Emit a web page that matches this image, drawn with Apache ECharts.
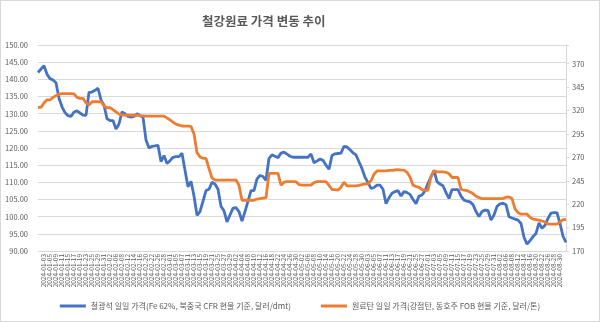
<!DOCTYPE html>
<html><head><meta charset="utf-8">
<script src="https://cdn.jsdelivr.net/npm/echarts@6/dist/echarts.min.js"></script>
<style>html,body{margin:0;padding:0;background:#fff}#c{width:598px;height:320px;border:1px solid #d9d9d9}</style>
</head><body><div id="c"></div>
<script>
const titleText = '철강원료 가격 변동 추이';
const seriesNames = ['철광석 일일 가격(Fe 62%, 북중국 CFR 현물 기준, 달러/dmt)', '원료탄 일일 가격(강점탄, 동호주 FOB 현물 기준, 달러/톤)'];
const startDate = '2024-01-01';
const endDate = '2024-09-03';
const leftTicks = {min: 90, max: 150, interval: 5};
const rightTicks = {min: 170, max: 390, interval: 25, lastLabel: 370};

const ironOre = [
142.0,143,144,141.5,140.2,139.8,139.0,134.5,132,130.3,
129.4,129.2,130.5,130.8,130.2,129.6,129.5,136.2,136.3,136.8,
137.4,134,132.5,128.5,128,128,125.5,127,130.5,130,
129.2,129,129.2,130,129.4,129,122.3,120,120.5,120.6,
120.8,116,117.8,115.5,116.3,117.3,117.5,117.5,118.5,113.5,
108.7,110.3,106,100.4,101.5,104.5,107.6,108,110,109.5,
108,103,101.7,98.5,100.5,102.5,102.6,101.5,98.7,101.5,
104.5,107.6,107.6,111,112,111.7,110.6,117,118,117.6,
117.2,118.5,118.8,118.2,117.6,117.3,117.3,117.3,117.3,117.3,
117.3,118.3,115.7,116.2,116.8,116.4,115,113.8,117.8,118.3,
118.4,118.5,120.5,120.3,119.5,118.6,118,116,114,111.5,
110,108.2,108.5,109.2,109.2,108,103.8,105.5,106.8,107.3,
107.6,106,107.3,107,106.5,105,103.8,106,106.3,107.5,
109.7,111.6,113.5,110.2,109.5,109,107,105.3,107.9,107.9,
107.9,106,104.8,104.5,104.3,103.5,101.5,100,101.5,101.9,
101.8,99,100.5,103,103.7,103.9,103.5,100,99.6,99.3,
99,98,94,92,93,94.2,95.1,98.2,96.6,97.5,
99.5,101,101.2,101.2,98,94.3,92.5
];
const cokingCoal = [
323.4,323.4,328,331.5,331.5,334,336,337.5,338,338,
338,338,337.8,334,333,333,328,326,329.4,329.4,
329.4,329.4,325,323,323,321,318.5,316.2,315.5,315.2,
315,315,315,315,314.5,314.3,314,314,314,314,
314,314,314,312,310,307.5,305.5,304.5,303.5,303.4,
303.4,303,295,275,270.5,269,269,258,248,245.6,
245.6,245.6,245.6,245.6,245.6,245.6,246,240,224.2,224.2,
224.2,224.2,224.2,225.5,226,226.5,227,252.8,252.8,252.8,
252.8,240.3,243.5,244,244,244,244,241,240.3,240.3,
240.3,240.3,243,244,244,244,244,240,235.7,235.5,
235,238,243.5,239.5,239.5,239.5,239.5,240,241,241.6,
241.6,245,252,255.6,255.6,255.6,255.6,256,256.2,256.5,
256.8,256.3,256.3,254,249,240.3,239,238,235.5,234.9,
234.9,250,255.5,254.6,254.6,254.6,254,252.5,248.5,248.5,
248.5,236,234.9,234.5,233,231.3,228.5,227,226,226,
226,226,226,226,226,226,227.5,227.8,226,215,
211,209.3,209.3,209.3,206,204,203.6,203,202,201,
198.6,198.6,198.6,198.6,201,203.6,203.6
];

// business-day categories between startDate and endDate
const dates = [];
(function(){
  let d = new Date(startDate + 'T00:00:00Z');
  const e = new Date(endDate + 'T00:00:00Z');
  while (d <= e) {
    const wd = d.getUTCDay();
    if (wd !== 0 && wd !== 6) dates.push(d.toISOString().slice(0,10));
    d = new Date(d.getTime() + 86400000);
  }
})();

const gray = '#595959';
const font = "'Noto Sans CJK KR', 'Noto Sans', sans-serif";
const chart = echarts.init(document.getElementById('c'));
chart.setOption({
  animation: false,
  textStyle: {fontFamily: font},
  title: {text: titleText, left: 196, top: 9,
    textStyle: {fontSize: 12.5, fontWeight: 'bold', color: gray, fontFamily: font}},
  legend: {bottom: 6, left: 'center', itemWidth: 26, itemHeight: 3, icon: 'rect', itemGap: 30,
    textStyle: {fontSize: 8, color: gray, fontFamily: font}},
  grid: {left: 37, right: 33, top: 44, bottom: 70},
  xAxis: {type: 'category', data: dates, boundaryGap: false,
    axisLine: {show: false}, axisTick: {show: false},
    axisLabel: {rotate: 90, interval: 1, fontSize: 6.5, color: gray, margin: 3, fontFamily: font}},
  yAxis: [
    {type: 'value', min: leftTicks.min, max: leftTicks.max, interval: leftTicks.interval,
     axisLabel: {formatter: v => v.toFixed(2), fontSize: 7.5, color: gray, margin: 10, fontFamily: font},
     splitLine: {lineStyle: {color: '#d9d9d9', width: 1}}, axisLine: {show: false}, axisTick: {show: false}},
    {type: 'value', min: rightTicks.min, max: rightTicks.max, interval: rightTicks.interval,
     axisLabel: {formatter: v => v > rightTicks.lastLabel ? '' : String(v), fontSize: 7.5, color: gray, margin: 6, fontFamily: font},
     splitLine: {show: false}, axisLine: {show: true, lineStyle: {color: '#d9d9d9'}},
     axisTick: {show: true, length: 3, lineStyle: {color: '#d9d9d9'}}}
  ],
  series: [
    {name: seriesNames[0], type: 'line', data: ironOre, yAxisIndex: 0, symbol: 'none',
     lineStyle: {color: '#4472C4', width: 2.8}, itemStyle: {color: '#4472C4'}},
    {name: seriesNames[1], type: 'line', data: cokingCoal, yAxisIndex: 1, symbol: 'none',
     lineStyle: {color: '#ED7D31', width: 2.8}, itemStyle: {color: '#ED7D31'}}
  ]
});
</script></body></html>
